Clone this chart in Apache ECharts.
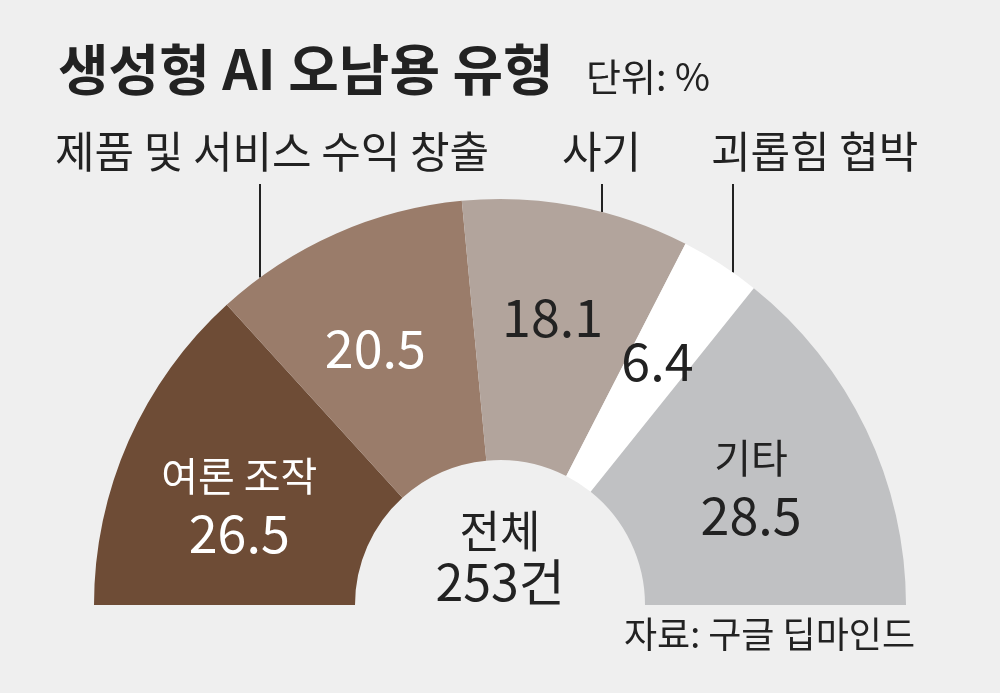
<!DOCTYPE html>
<html>
<head>
<meta charset="utf-8">
<script src="https://cdn.jsdelivr.net/npm/echarts@6/dist/echarts.min.js"></script>
<style>
  html, body { margin: 0; padding: 0; background: #efefef; }
  #chart { width: 1000px; height: 693px; }
</style>
</head>
<body>
<div id="chart"></div>
<script>
// data
var categories = ['여론 조작', '제품 및 서비스 수익 창출', '사기', '괴롭힘 협박', '기타'];
var shares = [26.5, 20.5, 18.1, 6.4, 28.5];
var colors = ['#6e4c36', '#9a7c6a', '#b2a49c', '#ffffff', '#c0c1c3'];
var labelColors = ['#ffffff', '#ffffff', '#222222', '#222222', '#222222'];
var total = 253;

var KR = "'Noto Sans CJK KR', sans-serif";
var cx = 500, cy = 605, r0 = 145, r1 = 406;

// names shown inside the slice (others are called out above the arc)
var insideName = { '여론 조작': true, '기타': true };
// small nudges of the inside labels
var labelShift = [[-6, 12], [-12, -2], [0, -14], [6, -10], [0, 2]];

var pieData = categories.map(function (name, i) {
  return {
    name: name,
    value: shares[i],
    itemStyle: { color: colors[i] },
    label: {
      rich: {
        n: { fontFamily: KR, fontSize: 40, color: labelColors[i], lineHeight: 58 },
        v: { fontFamily: KR, fontSize: 52, color: labelColors[i], lineHeight: 58 }
      }
    }
  };
});

// outer call-outs: vertical line down to the arc edge
function callout(text, textX, lineX) {
  var yEdge = cy - Math.sqrt(r1 * r1 - (lineX - cx) * (lineX - cx));
  return [
    { type: 'text', left: textX, top: 130,
      style: { text: text, font: '43px ' + KR, fill: '#222' } },
    { type: 'line', shape: { x1: lineX, y1: 184, x2: lineX, y2: yEdge },
      style: { stroke: '#222', lineWidth: 2 } }
  ];
}

var chart = echarts.init(document.getElementById('chart'));
chart.setOption({
  backgroundColor: '#efefef',
  animation: false,
  title: [
    { text: '생성형 AI 오남용 유형', left: 53, top: 37,
      textStyle: { fontFamily: KR, fontSize: 55, fontWeight: 'bold', color: '#222' } },
    { text: '단위: %', left: 581, top: 53,
      textStyle: { fontFamily: KR, fontSize: 38, fontWeight: 'normal', color: '#222' } }
  ],
  series: [{
    type: 'pie',
    center: [cx, cy],
    radius: [r0, r1],
    startAngle: 180,
    endAngle: 360,
    silent: true,
    data: pieData,
    label: {
      show: true,
      position: 'inside',
      formatter: function (p) {
        var v = '{v|' + p.value.toFixed(1) + '}';
        return insideName[p.name] ? '{n|' + p.name + '}\n' + v : v;
      }
    },
    labelLine: { show: false },
    labelLayout: function (p) {
      var s = labelShift[p.dataIndex];
      return { dx: s[0], dy: s[1] };
    }
  }],
  graphic: [].concat(
    callout(categories[1], 55, 260),
    callout(categories[2], 562, 602),
    callout(categories[3], 711, 733),
    [
      { type: 'text', x: cx, y: 531,
        style: { text: '전체', font: '44px ' + KR, fill: '#222', align: 'center', verticalAlign: 'middle' } },
      { type: 'text', x: cx, y: 582,
        style: { text: total + '건', font: '50px ' + KR, fill: '#222', align: 'center', verticalAlign: 'middle' } },
      { type: 'text', right: 85, top: 616,
        style: { text: '자료: 구글 딥마인드', font: '36px ' + KR, fill: '#222' } }
    ]
  )
});
</script>
</body>
</html>
